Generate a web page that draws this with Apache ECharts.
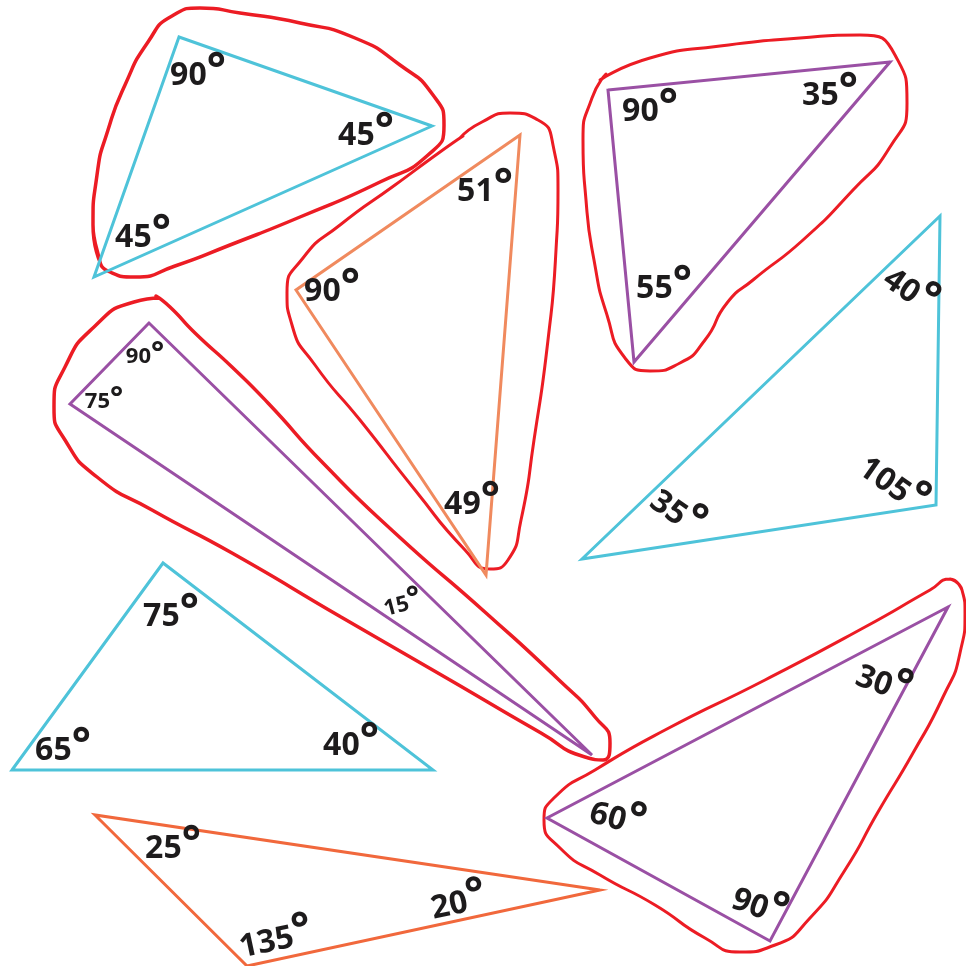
<!DOCTYPE html>
<html>
<head>
<meta charset="utf-8">
<script src="https://cdn.jsdelivr.net/npm/echarts@6/dist/echarts.min.js"></script>
<style>
  html, body { margin: 0; background: #fff; }
  #chart { width: 966px; height: 966px; }
</style>
</head>
<body>
<div id="chart"></div>
<script>
// triangle corners (picture px, y down)
const triTopLeft = [[179, 37], [432, 126], [94, 277]]
const triMiddle = [[520, 135], [296, 290], [486, 575]]
const triTopRight = [[608, 90], [890, 62], [634, 362]]
const triRight = [[940, 216], [936, 505], [582, 559]]
const triThin = [[149, 323], [70, 404], [592, 755]]
const triBottomLeft = [[163, 563], [12, 770], [433, 770]]
const triBottom = [[95, 815], [600, 890], [247, 966]]
const triBottomRight = [[948, 607], [547, 818], [770, 941]]

// hand drawn red loops around the right-angled triangles
const loopTopLeft = [[100, 262], [93, 225], [97, 175], [108, 130], [125, 85], [148, 42], [172, 16], [200, 8], [240, 13],
  [300, 23], [355, 38], [400, 65], [433, 95], [444, 125], [428, 155], [380, 182], [300, 217], [230, 245], [175, 266],
  [135, 277], [110, 272], [97, 250], [93, 225]]
const loopMiddle = [[460, 138], [482, 122], [510, 113], [538, 120], [553, 145], [558, 190], [556, 250], [548, 340],
  [534, 440], [521, 520], [508, 560], [490, 569], [465, 550], [415, 490], [360, 420], [315, 365], [292, 325], [287, 293],
  [303, 258], [340, 225], [395, 185], [440, 152], [463, 136]]
const loopTopRight = [[600, 80], [650, 58], [720, 46], [800, 38], [860, 35], [895, 55], [907, 103], [890, 147], [853, 190],
  [803, 240], [753, 280], [727, 303], [705, 340], [680, 363], [650, 371], [625, 358], [607, 315], [594, 260], [586, 200],
  [583, 140], [592, 98], [606, 74]]
const loopThin = [[159, 298], [134, 302], [94, 327], [65, 367], [54, 407], [65, 440], [97, 477], [152, 510], [232, 553],
  [341, 617], [450, 680], [541, 733], [585, 757], [603, 760], [610, 743], [595, 717], [559, 680], [486, 613], [395, 533],
  [323, 463], [268, 403], [232, 367], [195, 333], [170, 307], [156, 296]]
const loopBottomRight = [[950, 579], [962, 590], [965, 613], [960, 653], [943, 697], [913, 753], [878, 812], [845, 870],
  [810, 918], [775, 945], [740, 952], [705, 938], [655, 905], [600, 875], [560, 848], [544, 820], [555, 797], [595, 770],
  [665, 730], [765, 680], [865, 627], [930, 590], [950, 579], [962, 590]]

// angle labels: [x, y, degrees]
const anglesTopLeft = [[198, 76, '90'], [366, 136, '45'], [143, 238, '45']]
const anglesMiddle = [[485, 192, '51'], [332, 292, '90'], [472, 505, '49']]
const anglesTopRight = [[650, 112, '90'], [830, 96, '35'], [664, 289, '55']]
const anglesRight = [[909, 292, '40'], [892, 486, '105'], [676, 514, '35']]
const anglesThin = [[145, 357, '90'], [104, 402, '75'], [403, 605, '15']]
const anglesBottomLeft = [[171, 617, '75'], [63, 751, '65'], [351, 746, '40']]
const anglesBottom = [[173, 849, '25'], [459, 904, '20'], [276, 941, '135']]
const anglesBottomRight = [[883, 685, '30'], [617, 820, '60'], [759, 908, '90']]

const CYAN = '#4ec3d9'
const PURPLE = '#9a50a4'
const SALMON = '#f08a5e'
const ORANGE = '#f1683c'
const RED = '#ec1c24'
const INK = '#1d1b1c'

const triangle = (pts, color) => ({
  type: 'line',
  data: [...pts, pts[0], pts[1]],
  symbol: 'none',
  silent: true,
  lineStyle: { color, width: 3, join: 'miter' },
  z: 3,
})

const loop = (pts, width) => ({
  type: 'line',
  data: pts,
  symbol: 'none',
  smooth: 0.6,
  silent: true,
  lineStyle: { color: RED, width, cap: 'round' },
  z: 2,
})

const angles = (list, size, tilt) => ({
  type: 'scatter',
  symbolSize: 1,
  silent: true,
  itemStyle: { color: 'rgba(0,0,0,0)', opacity: 1 },
  data: list.map((a, i) => ({ value: a, label: { rotate: tilt ? tilt[i] : 0 } })),
  label: {
    show: true,
    position: 'inside',
    color: INK,
    opacity: 1,
    textBorderWidth: 0,
    formatter: (p) => `{n|${p.value[2]}}{d|°}`,
    rich: {
      n: { fontFamily: 'Open Sans', fontWeight: 'bold', fontSize: size, color: INK },
      d: {
        fontFamily: 'Open Sans', fontWeight: 'bold', fontSize: size * 1.4, color: INK,
        verticalAlign: 'top', padding: [0, 0, size * 0.28, 0],
      },
    },
  },
  z: 5,
})

const chart = echarts.init(document.getElementById('chart'))
chart.setOption({
  animation: false,
  grid: { left: 0, right: 0, top: 0, bottom: 0 },
  xAxis: { type: 'value', min: 0, max: 966, show: false },
  yAxis: { type: 'value', min: 0, max: 966, inverse: true, show: false },
  series: [
    triangle(triTopLeft, CYAN),
    triangle(triMiddle, SALMON),
    triangle(triTopRight, PURPLE),
    triangle(triRight, CYAN),
    triangle(triThin, PURPLE),
    triangle(triBottomLeft, CYAN),
    triangle(triBottom, ORANGE),
    triangle(triBottomRight, PURPLE),
    loop(loopTopLeft, 3.5),
    loop(loopMiddle, 3),
    loop(loopTopRight, 3),
    loop(loopThin, 3.5),
    loop(loopBottomRight, 3),
    angles(anglesTopLeft, 32),
    angles(anglesMiddle, 32),
    angles(anglesTopRight, 32),
    angles(anglesRight, 32, [-35, -35, -35]),
    angles(anglesThin, 22, [0, 0, 15]),
    angles(anglesBottomLeft, 32),
    angles(anglesBottom, 32, [0, 12, 12]),
    angles(anglesBottomRight, 32, [-20, -15, -20]),
  ],
})
</script>
</body>
</html>
